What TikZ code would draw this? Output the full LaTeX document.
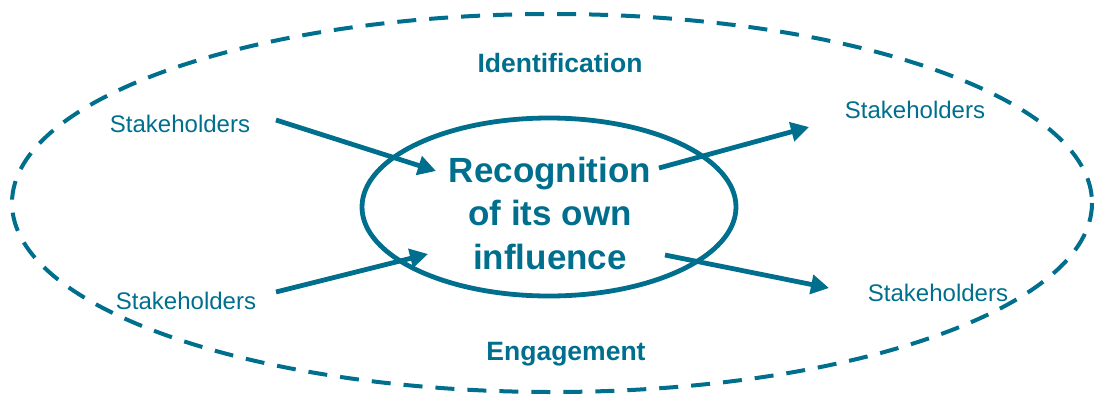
\documentclass[tikz,border=0pt]{standalone}
\usepackage{fontspec}
\setmainfont{Liberation Sans}
\usetikzlibrary{arrows.meta}
\definecolor{teal}{HTML}{006F8E}
\begin{document}
\begin{tikzpicture}[x=1pt,y=-1pt,
  label/.style={text=teal,font=\fontsize{24}{28}\selectfont},
  heading/.style={text=teal,font=\bfseries\fontsize{26.5}{30}\selectfont},
  flow/.style={draw=teal,line width=4.8pt,-{Triangle[length=18pt,width=19pt]}}]
  \useasboundingbox (0,0) rectangle (1099,405);
  % outer boundary
  \draw[teal,line width=4pt,dash pattern=on 19pt off 13pt] (552,203) ellipse [x radius=540,y radius=189];
  % centre
  \draw[teal,line width=4.8pt] (549,207) ellipse [x radius=187,y radius=89];
  \node[text=teal,font=\bfseries\fontsize{35}{43.5}\selectfont,align=center] (core) at (550,213) {Recognition\\of its own\\influence};
  \node[heading] (ident) at (560,63) {Identification};
  \node[heading] (engage) at (566,354) {Engagement};
  \node[label] (s1) at (180,124) {Stakeholders};
  \node[label] (s2) at (186,301) {Stakeholders};
  \node[label] (s3) at (915,110) {Stakeholders};
  \node[label] (s4) at (938,293) {Stakeholders};
  \coordinate (a1s) at (276,120); \coordinate (a1e) at (436,171);
  \coordinate (a2s) at (276,292); \coordinate (a2e) at (428,254);
  \coordinate (a3s) at (659,168); \coordinate (a3e) at (809,127);
  \coordinate (a4s) at (665,255); \coordinate (a4e) at (829,288);
  \draw[flow] (a1s) -- (a1e);
  \draw[flow] (a2s) -- (a2e);
  \draw[flow] (a3s) -- (a3e);
  \draw[flow] (a4s) -- (a4e);
\end{tikzpicture}
\end{document}
